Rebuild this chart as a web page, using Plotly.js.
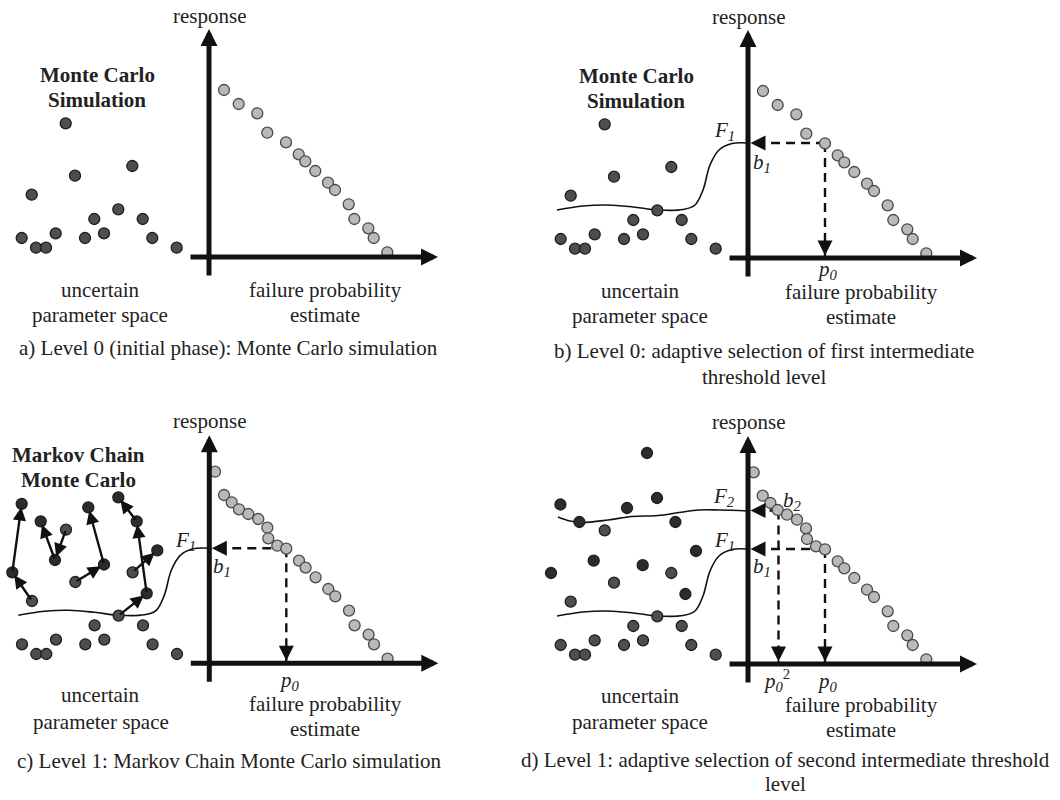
<!DOCTYPE html>
<html>
<head>
<meta charset="utf-8">
<script src="https://cdn.plot.ly/plotly-3.0.1.min.js"></script>
<style>html,body{margin:0;padding:0;background:#fff}#chart{width:1060px;height:800px}</style>
</head>
<body>
<div id="chart"></div>
<script>
// ---------- DATA (local panel units: x right of response axis, y above probability axis) ----------
// Level 0 Monte Carlo samples in the uncertain parameter space
const seedX = [-177.3, -143.3, -134, -90.7, -76.7];      // samples that exceed F1 (seeds)
const seedY = [62.3, 133.7, 81.3, 47.7, 91];
const lowX = [-114.7, -66.3, -153.3, -105, -187.3, -124, -56.7, -173, -163, -32.3];
const lowY = [38, 38, 23.7, 23.7, 19, 19, 19, 9.3, 9.3, 9.3];

// Level 1 Markov chains (start at a seed)
const chain1X = [-177.3, -197, -187.6];        const chain1Y = [62.3, 91, 159.5];
const chain2X = [-143.3, -154.3, -168.6];      const chain2Y = [133.7, 103.3, 142];
const chain3X = [-134, -105.3, -121];          const chain3Y = [81.3, 98.8, 156];
const chain4X = [-90.7, -62.6, -72.6, -91];    const chain4Y = [47.7, 70, 142, 166];
const chain5X = [-76.7, -52];                  const chain5Y = [91, 113];
const extraX = [-101];                         const extraY = [211];

// Response vs failure probability estimate
const resp0X = [15, 29.7, 48.3, 58.3, 77, 89.7, 96.3, 106.3, 119, 126, 139.7, 145.3, 159.3, 164.7, 178.3];
const resp0Y = [167, 153, 143.7, 124.3, 114.7, 102.7, 95.7, 86, 74.3, 67, 52.7, 38, 28.7, 19, 4.7];
const resp1X = [5.7, 14.7, 22.4, 29.7, 39, 49, 58, 59, 68, 77, 89.7, 96.3, 106.3, 119, 126, 139.7, 145.3, 159.3, 164.7, 178.3];
const resp1Y = [191.6, 168.3, 161, 154, 149.3, 144.3, 135.6, 125, 117.6, 114.7, 102.7, 95.7, 86, 74.3, 67, 52.7, 38, 28.7, 19, 4.7];

// Thresholds
const b1 = 115, p0 = 77;
const b2 = 153.5, p0sq = 30.5;

// Limit-state curves
const f1X = [-191, -165, -140, -115, -90, -65, -53, -45, -38, -29, -16, 0];
const f1Y = [48, 52, 53, 51, 48, 48.5, 53, 68, 93, 108, 114.5, 115];
const f2X = [-190, -178, -166, -140, -116, -90, -69, -49, -29, 0];
const f2Y = [147, 143, 141.5, 144, 147.5, 148.5, 151.5, 154, 154, 153];

// Axis extents
const axTop = 228, axRight = 229, axTail = -20;

// ---------- STYLE ----------
const FONT = 'Liberation Serif, Times New Roman, serif';
const INK = '#111';
const TXT = '#222';
const FS = 21;

// panel origins in page pixels, used only to build axis ranges
const panels = [
  {id: '',  ox: 209,   oy: 257,   dx: [0, 0.5], dy: [0.5, 1], left: 0,   top: 0},
  {id: '2', ox: 748,   oy: 258,   dx: [0.5, 1], dy: [0.5, 1], left: 530, top: 0},
  {id: '3', ox: 209.3, oy: 663.3, dx: [0, 0.5], dy: [0, 0.5], left: 0,   top: 400},
  {id: '4', ox: 748,   oy: 664,   dx: [0.5, 1], dy: [0, 0.5], left: 530, top: 400}
];

const layout = {
  width: 1060, height: 800,
  margin: {l: 0, r: 0, t: 0, b: 0, pad: 0},
  paper_bgcolor: '#fff', plot_bgcolor: 'rgba(0,0,0,0)',
  showlegend: false,
  annotations: [],
  font: {family: FONT, size: FS, color: TXT}
};
panels.forEach(p => {
  const xa = 'xaxis' + p.id, ya = 'yaxis' + p.id;
  layout[xa] = {domain: p.dx, range: [p.left - p.ox, p.left + 530 - p.ox], visible: false, fixedrange: true, anchor: 'y' + p.id};
  layout[ya] = {domain: p.dy, range: [p.oy - (p.top + 400), p.oy - p.top], visible: false, fixedrange: true, anchor: 'x' + p.id};
});

const traces = [];
function refs(i) { const id = panels[i].id; return {xaxis: 'x' + id, yaxis: 'y' + id}; }

function dots(i, xs, ys, fill, edge) {
  traces.push(Object.assign({
    type: 'scatter', mode: 'markers', x: xs, y: ys, hoverinfo: 'skip', cliponaxis: false,
    marker: {size: 11, color: fill, line: {color: edge, width: 1.3}}
  }, refs(i)));
}
function curve(i, xs, ys) {
  traces.push(Object.assign({
    type: 'scatter', mode: 'lines', x: xs, y: ys, hoverinfo: 'skip', cliponaxis: false,
    line: {color: INK, width: 1.6, shape: 'spline', smoothing: 1}
  }, refs(i)));
}
function dashed(i, xs, ys) {
  traces.push(Object.assign({
    type: 'scatter', mode: 'lines', x: xs, y: ys, hoverinfo: 'skip', cliponaxis: false,
    line: {color: INK, width: 2.4, dash: '9px,6px'}
  }, refs(i)));
}
function text(i, x, y, t, extra) {
  const r = refs(i);
  layout.annotations.push(Object.assign({
    xref: r.xaxis, yref: r.yaxis, x: x, y: y, text: t, showarrow: false,
    xanchor: 'center', yanchor: 'middle', font: {family: FONT, size: FS, color: TXT}
  }, extra || {}));
}
function arrowData(i, x, y, ax, ay, w, size, standoff) {
  const r = refs(i);
  layout.annotations.push({
    xref: r.xaxis, yref: r.yaxis, axref: r.xaxis, ayref: r.yaxis,
    x: x, y: y, ax: ax, ay: ay, text: '', showarrow: true,
    arrowhead: 2, arrowwidth: w, arrowsize: size, arrowcolor: INK, standoff: standoff || 0
  });
}
function arrowPix(i, x, y, ax, ay) {
  const r = refs(i);
  layout.annotations.push({
    xref: r.xaxis, yref: r.yaxis, x: x, y: y, ax: ax, ay: ay, text: '', showarrow: true,
    arrowhead: 2, arrowwidth: 2.4, arrowsize: 1.25, arrowcolor: INK, standoff: 2.5
  });
}
function axes(i) {
  arrowData(i, 0, axTop, 0, axTail, 5, 0.68, 0);
  arrowData(i, axRight, 0, axTail, 0, 5, 0.68, 0);
}
function threshold(i, b, p) {
  dashed(i, [p, 0], [b, b]);
  dashed(i, [p, p], [b, 0]);
  arrowPix(i, 0, b, 16, 0);
  arrowPix(i, p, 0, 0, -16);
}
function chain(i, xs, ys) {
  for (let k = 1; k < xs.length; k++) arrowData(i, xs[k], ys[k], xs[k - 1], ys[k - 1], 2.4, 1.1, 3.5);
}

const MED = '#4e4e4e', DARK = '#2c2c2c', EDGE = '#1e1e1e';
const LIGHT = '#b9b9b9', LEDGE = '#4a4a4a';
const IT = s => '<i>' + s + '</i>';
const F1 = IT('F') + '<sub>' + IT('1') + '</sub>';
const F2 = IT('F') + '<sub>' + IT('2') + '</sub>';
const B1 = IT('b') + '<sub>' + IT('1') + '</sub>';
const B2 = IT('b') + '<sub>' + IT('2') + '</sub>';
const P0 = IT('p') + '<sub>' + IT('0') + '</sub>';
const P0SQ = IT('p') + '<sub>' + IT('0') + '</sub><sup>2</sup>';

// ---------- Panel a ----------
axes(0);
dots(0, seedX.concat(lowX), seedY.concat(lowY), MED, EDGE);
dots(0, resp0X, resp0Y, LIGHT, LEDGE);
text(0, 0, 241, 'response');
text(0, -112, 182, '<b>Monte Carlo</b>');
text(0, -112, 157, '<b>Simulation</b>');
text(0, -109, -33, 'uncertain');
text(0, -109, -58, 'parameter space');
text(0, 116, -33, 'failure probability');
text(0, 116, -58, 'estimate');
text(0, 19, -91, 'a) Level 0 (initial phase): Monte Carlo simulation');

// ---------- Panel b ----------
curve(1, f1X, f1Y);
threshold(1, b1, p0);
axes(1);
dots(1, seedX.concat(lowX), seedY.concat(lowY), MED, EDGE);
dots(1, resp0X, resp0Y, LIGHT, LEDGE);
text(1, 0, 241, 'response');
text(1, -112, 182, '<b>Monte Carlo</b>');
text(1, -112, 157, '<b>Simulation</b>');
text(1, -24, 127, F1);
text(1, 14, 95, B1);
text(1, 79, -12, P0);
text(1, -108, -33, 'uncertain');
text(1, -108, -58, 'parameter space');
text(1, 113, -34, 'failure probability');
text(1, 113, -59, 'estimate');
text(1, 16, -93, 'b) Level 0: adaptive selection of first intermediate');
text(1, 16, -119, 'threshold level');

// ---------- Panel c ----------
curve(2, f1X, f1Y);
threshold(2, b1, p0);
axes(2);
[[chain1X, chain1Y], [chain2X, chain2Y], [chain3X, chain3Y], [chain4X, chain4Y], [chain5X, chain5Y]].forEach(c => chain(2, c[0], c[1]));
dots(2, seedX.concat(lowX), seedY.concat(lowY), MED, EDGE);
dots(2, [].concat(chain1X.slice(1), chain2X.slice(1), chain3X.slice(1), chain4X.slice(1), chain5X.slice(1)),
        [].concat(chain1Y.slice(1), chain2Y.slice(1), chain3Y.slice(1), chain4Y.slice(1), chain5Y.slice(1)), DARK, EDGE);
dots(2, resp1X, resp1Y, LIGHT, LEDGE);
text(2, 0, 242, 'response');
text(2, -131, 208, '<b>Markov Chain</b>');
text(2, -131, 183, '<b>Monte Carlo</b>');
text(2, -24, 122, F1);
text(2, 13, 96, B1);
text(2, 80, -18, P0);
text(2, -108.5, -32, 'uncertain');
text(2, -108.5, -58.5, 'parameter space');
text(2, 116, -41, 'failure probability');
text(2, 116, -66, 'estimate');
text(2, 20, -98, 'c) Level 1: Markov Chain Monte Carlo simulation');

// ---------- Panel d ----------
curve(3, f1X, f1Y);
curve(3, f2X, f2Y);
threshold(3, b1, p0);
threshold(3, b2, p0sq);
axes(3);
dots(3, seedX.concat(lowX), seedY.concat(lowY), MED, EDGE);
dots(3, [].concat(chain1X.slice(1), chain2X.slice(1), chain3X.slice(1), chain4X.slice(1), chain5X.slice(1), extraX),
        [].concat(chain1Y.slice(1), chain2Y.slice(1), chain3Y.slice(1), chain4Y.slice(1), chain5Y.slice(1), extraY), DARK, EDGE);
dots(3, resp1X, resp1Y, LIGHT, LEDGE);
text(3, 0, 242, 'response');
text(3, -24, 167, F2);
text(3, -24, 123, F1);
text(3, 44, 163, B2);
text(3, 14, 97, B1);
text(3, 28, -16, P0SQ);
text(3, 79, -18, P0);
text(3, -108, -32, 'uncertain');
text(3, -108, -58, 'parameter space');
text(3, 113, -41, 'failure probability');
text(3, 113, -66, 'estimate');
text(3, 37, -96, 'd) Level 1: adaptive selection of second intermediate threshold');
text(3, 37, -120, 'level');

Plotly.newPlot('chart', traces, layout, {staticPlot: true, displayModeBar: false});
</script>
</body>
</html>
